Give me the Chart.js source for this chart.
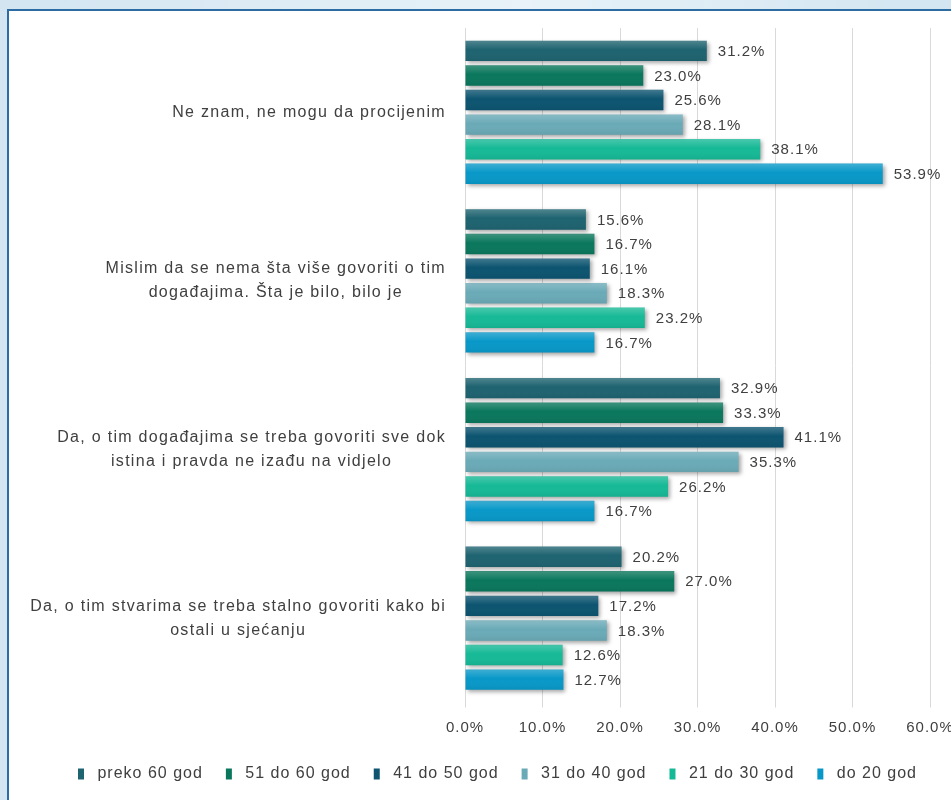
<!DOCTYPE html>
<html>
<head>
<meta charset="utf-8">
<title>Stavovi po starosnim grupama</title>
<script src="https://cdn.jsdelivr.net/npm/chart.js@4.4.1/dist/chart.umd.min.js"></script>
<style>
  html, body { margin: 0; padding: 0; width: 951px; height: 800px; overflow: hidden;
    background: linear-gradient(90deg, #d2e5f1, #e8f2f8 55%, #d2e5f1); }
  #frame { position: absolute; left: 7px; top: 9px; width: 1000px; height: 850px; background: #fff;
    border-left: 2px solid #2c6ca3; border-top: 2px solid #2c6ca3; }
  #chart { position: absolute; left: 0; top: 0; }
</style>
</head>
<body>
<div id="frame"></div>
<canvas id="chart" width="951" height="800"></canvas>
<script>
// Answers, top to bottom (each line of the label is one entry)
const categories = [
    ['Ne znam, ne mogu da procijenim'],
    ['Mislim da se nema šta više govoriti o tim', 'događajima. Šta je bilo, bilo je'],
    ['Da, o tim događajima se treba govoriti sve dok', 'istina i pravda ne izađu na vidjelo'],
    ['Da, o tim stvarima se treba stalno govoriti kako bi', 'ostali u sjećanju']
];

// Age groups (legend order)
const seriesNames = ['preko 60 god', '51 do 60 god', '41 do 50 god', '31 do 40 god', '21 do 30 god', 'do 20 god'];
const seriesColors = ['#1e6370', '#0a775c', '#0c5470', '#6aaab7', '#16b996', '#0898c8'];

// Percentages per answer
const preko60 = [31.2, 15.6, 32.9, 20.2];
const od51do60 = [23.0, 16.7, 33.3, 27.0];
const od41do50 = [25.6, 16.1, 41.1, 17.2];
const od31do40 = [28.1, 18.3, 35.3, 18.3];
const od21do30 = [38.1, 23.2, 26.2, 12.6];
const do20 = [53.9, 16.7, 16.7, 12.7];

const xTickLabels = ['0.0%', '10.0%', '20.0%', '30.0%', '40.0%', '50.0%', '60.0%'];

const seriesValues = [preko60, od51do60, od41do50, od31do40, od21do30, do20];

const FONT = '"Liberation Sans", Arial, sans-serif';
const TEXT_COLOR = '#404040';

Chart.defaults.font.family = FONT;
Chart.defaults.color = TEXT_COLOR;

function setSpacing(chart) {
    chart.ctx.letterSpacing = '1px';
}

// Shadows, bar shine, value labels and the category labels
const decorPlugin = {
    id: 'decor',
    beforeUpdate: setSpacing,
    beforeLayout: setSpacing,
    beforeDraw: setSpacing,
    beforeDatasetsDraw(chart) {
        const ctx = chart.ctx;
        ctx.save();
        ctx.shadowColor = 'rgba(0, 0, 0, 0.35)';
        ctx.shadowBlur = 4;
        ctx.shadowOffsetX = 2;
        ctx.shadowOffsetY = 2;
    },
    afterDatasetsDraw(chart) {
        const ctx = chart.ctx;
        ctx.restore();

        chart.data.datasets.forEach((ds, di) => {
            const meta = chart.getDatasetMeta(di);
            meta.data.forEach((bar, i) => {
                const top = bar.y - bar.height / 2;
                const left = Math.min(bar.x, bar.base);
                const w = Math.abs(bar.x - bar.base);

                // light top edge like the office gradient
                const g = ctx.createLinearGradient(0, top, 0, top + bar.height);
                g.addColorStop(0, 'rgba(255,255,255,0.22)');
                g.addColorStop(0.45, 'rgba(255,255,255,0)');
                g.addColorStop(1, 'rgba(0,0,0,0.06)');
                ctx.fillStyle = g;
                ctx.fillRect(left, top, w, bar.height);

                // value label
                ctx.save();
                ctx.letterSpacing = '1px';
                ctx.font = '15px ' + FONT;
                ctx.fillStyle = TEXT_COLOR;
                ctx.textAlign = 'left';
                ctx.textBaseline = 'middle';
                ctx.fillText(ds.data[i].toFixed(1) + '%', bar.x + 11, bar.y + 1);
                ctx.restore();
            });
        });
    },
    afterDraw(chart) {
        const ctx = chart.ctx;
        const yScale = chart.scales.y;
        const right = chart.chartArea.left - 19;
        ctx.save();
        ctx.letterSpacing = '1.3px';
        ctx.font = '16px ' + FONT;
        ctx.fillStyle = TEXT_COLOR;
        ctx.textAlign = 'center';
        ctx.textBaseline = 'middle';
        categories.forEach((lines, i) => {
            const y = yScale.getPixelForValue(i);
            const widest = Math.max(...lines.map(l => ctx.measureText(l).width));
            const cx = right - widest / 2;
            lines.forEach((line, j) => {
                ctx.fillText(line, cx, y + (j - (lines.length - 1) / 2) * 24);
            });
        });
        ctx.restore();
    }
};

const ctx = document.getElementById('chart').getContext('2d');
new Chart(ctx, {
    type: 'bar',
    data: {
        labels: categories,
        datasets: seriesNames.map((name, i) => ({
            label: name,
            data: seriesValues[i],
            backgroundColor: seriesColors[i],
            borderWidth: 0,
            categoryPercentage: 0.875,
            barPercentage: 0.83
        }))
    },
    options: {
        indexAxis: 'y',
        responsive: false,
        animation: false,
        devicePixelRatio: 1,
        layout: {
            padding: { left: 44, right: 0, top: 28, bottom: 8 }
        },
        plugins: {
            legend: {
                position: 'bottom',
                labels: {
                    boxWidth: 6,
                    boxHeight: 11,
                    padding: 23,
                    color: TEXT_COLOR,
                    font: { size: 16 },
                    // a little more room between the swatch and the text
                    generateLabels: function(chart) {
                        return Chart.defaults.plugins.legend.labels.generateLabels(chart)
                            .map(item => Object.assign(item, { text: ' ' + item.text }));
                    }
                }
            },
            tooltip: { enabled: false }
        },
        scales: {
            x: {
                min: 0,
                max: 60,
                ticks: {
                    stepSize: 10,
                    padding: 11,
                    color: TEXT_COLOR,
                    font: { size: 15 },
                    maxRotation: 0,
                    callback: function(value, index) {
                        return xTickLabels[index];
                    }
                },
                grid: {
                    color: '#d9d9d9',
                    tickLength: 5
                },
                border: { display: false },
                afterFit: function(scale) {
                    scale.paddingRight = 21;
                    scale.height = 40.5;
                }
            },
            y: {
                ticks: { display: false },
                grid: { display: false },
                border: { display: false },
                afterFit: function(scale) {
                    scale.width = 421;
                }
            }
        }
    },
    plugins: [decorPlugin]
});
</script>
</body>
</html>
